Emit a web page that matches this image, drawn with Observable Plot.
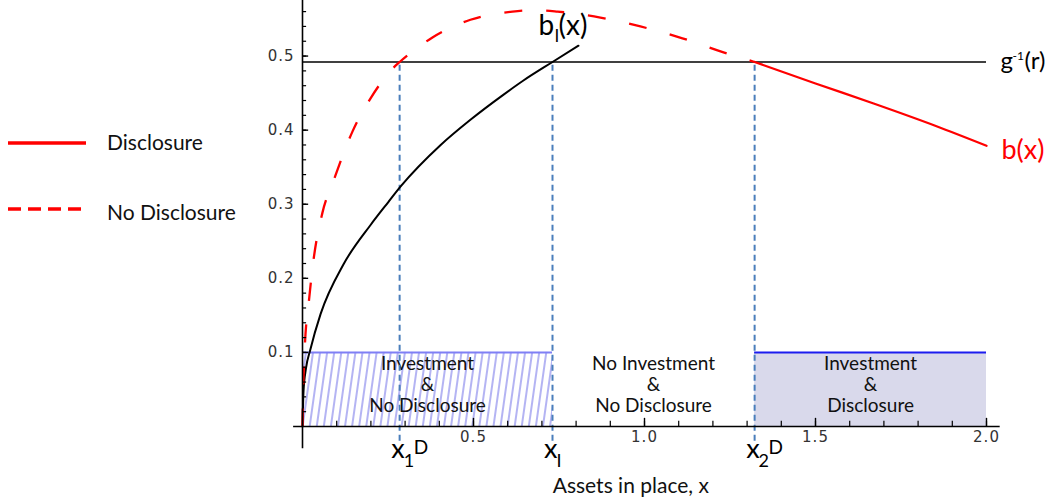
<!DOCTYPE html>
<html><head><meta charset="utf-8">
<script src="https://cdn.jsdelivr.net/npm/d3@7"></script>
<script src="https://cdn.jsdelivr.net/npm/@observablehq/plot@0.6"></script>
<style>
body{margin:0;background:#fff;}
#wrap{position:relative;width:1058px;height:503px;overflow:hidden;}
#legend{position:absolute;left:0;top:0;}
.tk text{letter-spacing:1px;}
</style></head><body>
<svg width="0" height="0" style="position:absolute">
<defs>
<pattern id="hatch" patternUnits="userSpaceOnUse" width="7" height="10" patternTransform="rotate(8)">
<rect width="7" height="10" fill="#ffffff"/>
<line x1="2" y1="0" x2="2" y2="10" stroke="#9494ee" stroke-width="1.4"/>
</pattern>
</defs></svg>
<div id="wrap"></div>
<script>
// ---- data ----
const noDiscX = [0, 0.002, 0.006, 0.02, 0.032, 0.058, 0.091, 0.146, 0.199, 0.272, 0.284, 0.38, 0.491, 0.614, 0.68, 0.746, 0.871, 0.988, 1.111, 1.231, 1.322];
const noDiscY = [0, 0.05, 0.1, 0.175, 0.224, 0.288, 0.332, 0.398, 0.443, 0.487, 0.492, 0.525, 0.549, 0.56, 0.562, 0.56, 0.552, 0.54, 0.524, 0.505, 0.492];
const discX = [1.322, 1.5, 1.67, 1.85, 2.0];
const discY = [0.492, 0.463, 0.436, 0.406, 0.379];
const bIX = [0, 0.003, 0.01, 0.023, 0.053, 0.12, 0.199, 0.251, 0.287, 0.404, 0.491, 0.588, 0.646, 0.731, 0.807];
const bIY = [0, 0.048, 0.078, 0.104, 0.152, 0.219, 0.272, 0.303, 0.324, 0.38, 0.414, 0.448, 0.467, 0.492, 0.514];
const gInvR = 0.492;
const cutoffs = [0.284, 0.731, 1.322];
const cutoffSub = ["1", "I", "2"];
const cutoffSup = ["D", "", "D"];
const regionX1 = [0, 0.731, 1.322];
const regionX2 = [0.731, 1.322, 2.0];
const regionLabels = ["Investment\n&\nNo Disclosure", "No Investment\n&\nNo Disclosure", "Investment\n&\nDisclosure"];
const regionFill = ["url(#hatch)", "none", "#d9d9eb"];
const regionEdge = ["#7f7ff5", "none", "#1c1cf0"];
const regionTop = 0.1;
const xMajor = [0.5, 1.0, 1.5, 2.0];
const yMajor = [0.1, 0.2, 0.3, 0.4, 0.5];
const xMinor = d3.range(1, 21).map(i => i / 10);
const yMinor = d3.range(1, 29).map(i => i / 50);
const xLabel = "Assets in place, x";
const legendNames = ["Disclosure", "No Disclosure"];

const zip = (xs, ys) => xs.map((x, i) => ({x, y: ys[i]}));
const noDisc = zip(noDiscX, noDiscY);
const disc = zip(discX, discY);
const bI = zip(bIX, bIY);
const regions = regionLabels.map((t, i) => ({x1: regionX1[i], x2: regionX2[i], label: t, fill: regionFill[i], edge: regionEdge[i]}));
const cuts = cutoffs.map((x, i) => ({x, sub: cutoffSub[i], sup: cutoffSup[i]}));

const F = "Lato, 'Open Sans', sans-serif";
const plot = Plot.plot({
  width: 1058, height: 503,
  marginLeft: 302, marginRight: 72, marginTop: 0, marginBottom: 77,
  x: {domain: [0, 2], axis: null},
  y: {domain: [0, 0.575], axis: null},
  style: {fontFamily: F, background: "white", overflow: "visible"},
  marks: [
    Plot.rect(regions.filter(d => d.fill !== "none"), {x1: "x1", x2: "x2", y1: 0, y2: regionTop, fill: d => d.fill}),
    Plot.ruleY(regions.filter(d => d.edge !== "none"), {x1: "x1", x2: "x2", y: regionTop, stroke: d => d.edge, strokeWidth: 2}),
    Plot.text(regions, {x: d => (d.x1 + d.x2) / 2, y: regionTop, text: "label", lineAnchor: "top", dy: 3, fontSize: 19, lineHeight: 1.1, fill: "#111"}),
    Plot.ruleY([gInvR], {x1: 0, x2: 2.0, stroke: "#000", strokeWidth: 1.5}),
    Plot.ruleX(cuts, {x: "x", y1: -0.02, y2: gInvR, stroke: "#4a7ebb", strokeWidth: 2, strokeDasharray: "6,4"}),
    Plot.line(bI, {x: "x", y: "y", stroke: "#000", strokeWidth: 2, curve: "monotone-x"}),
    Plot.line(noDisc, {x: "x", y: "y", stroke: "#ff0000", strokeWidth: 2.3, strokeDasharray: "18,24", strokeLinecap: "butt", curve: "monotone-x"}),
    Plot.line(disc, {x: "x", y: "y", stroke: "#ff0000", strokeWidth: 2.3, curve: "monotone-x"}),
    // axes lines & ticks
    Plot.ruleY([0], {x1: -0.026, x2: 2.04, stroke: "#000", strokeWidth: 1.6}),
    Plot.ruleX([0], {y1: -0.03, y2: 0.575, stroke: "#000", strokeWidth: 1.6}),
    Plot.ruleX(xMinor, {x: d => d, y1: 0, y2: 0.007, stroke: "#000", strokeWidth: 1.2}),
    Plot.ruleX(xMajor, {x: d => d, y1: 0, y2: 0.011, stroke: "#000", strokeWidth: 1.4}),
    Plot.ruleY(yMinor, {y: d => d, x1: 0, x2: 0.012, stroke: "#000", strokeWidth: 1.2}),
    Plot.ruleY(yMajor, {y: d => d, x1: 0, x2: 0.018, stroke: "#000", strokeWidth: 1.4}),
    Plot.axisX(xMajor, {label: null, tickSize: 0, tickPadding: 5, tickFormat: d => d.toFixed(1), fontSize: 15, fill: "#333", fontFamily: "DejaVu Sans", className: "tk"}),
    Plot.axisY(yMajor, {label: null, tickSize: 0, tickPadding: 8, tickFormat: d => d.toFixed(1), fontSize: 15, fill: "#333", fontFamily: "DejaVu Sans", className: "tk"}),
    Plot.text([xLabel], {frameAnchor: "bottom", x: 0.96, text: d => d, dy: 66, fontSize: 21, fill: "#111"}),
    // cutoff labels
    Plot.text(cuts, {x: "x", frameAnchor: "bottom", text: () => "x", textAnchor: "end", lineAnchor: "bottom", dx: 5, dy: 31, fontSize: 27, fill: "#000"}),
    Plot.text(cuts, {x: "x", frameAnchor: "bottom", text: "sub", textAnchor: "start", lineAnchor: "bottom", dx: 4, dy: 40, fontSize: 18, fill: "#000"}),
    Plot.text(cuts, {x: "x", frameAnchor: "bottom", text: "sup", textAnchor: "start", lineAnchor: "bottom", dx: 14, dy: 27, fontSize: 19, fill: "#000"}),
    // curve labels
    Plot.text([{x: 0.69, y: 0.528}], {x: "x", y: "y", text: () => "b", textAnchor: "start", lineAnchor: "bottom", fontSize: 28, fill: "#000"}),
    Plot.text([{x: 0.69, y: 0.528}], {x: "x", y: "y", text: () => "I", textAnchor: "start", lineAnchor: "bottom", dx: 16, dy: 7, fontSize: 17, fill: "#000"}),
    Plot.text([{x: 0.69, y: 0.528}], {x: "x", y: "y", text: () => "(x)", textAnchor: "start", lineAnchor: "bottom", dx: 20, fontSize: 28, fill: "#000"}),
    Plot.text([{x: 2.0, y: gInvR}], {x: "x", y: "y", text: () => "g", textAnchor: "start", lineAnchor: "bottom", dx: 14, dy: 7, fontSize: 24, fill: "#000"}),
    Plot.text([{x: 2.0, y: gInvR}], {x: "x", y: "y", text: () => "-1", textAnchor: "start", lineAnchor: "bottom", dx: 26, dy: -2, fontSize: 12, fill: "#000"}),
    Plot.text([{x: 2.0, y: gInvR}], {x: "x", y: "y", text: () => "(r)", textAnchor: "start", lineAnchor: "bottom", dx: 38, dy: 7, fontSize: 24, fill: "#000"}),
    Plot.text([{x: 2.0, y: discY[discY.length - 1]}], {x: "x", y: "y", text: () => "b(x)", textAnchor: "start", lineAnchor: "bottom", dx: 15, dy: 13, fontSize: 27, fill: "#ff0000"})
  ]
});
const wrap = document.getElementById("wrap");
wrap.appendChild(plot);

// legend (left side)
const lg = d3.select(wrap).append("svg").attr("id", "legend").attr("width", 260).attr("height", 503);
const rows = [{y: 143, dash: null}, {y: 209, dash: "13,7"}];
rows.forEach((r, i) => {
  lg.append("line").attr("x1", 8).attr("x2", 82 + (r.dash ? 0 : 4)).attr("y1", r.y).attr("y2", r.y)
    .attr("stroke", "#ff0000").attr("stroke-width", 3.5).attr("stroke-dasharray", r.dash);
  lg.append("text").attr("x", 107).attr("y", r.y + 7 + (i ? 4 : 0)).attr("font-family", F).attr("font-size", 21)
    .attr("fill", "#111").text(legendNames[i]);
});
</script>
</body></html>
